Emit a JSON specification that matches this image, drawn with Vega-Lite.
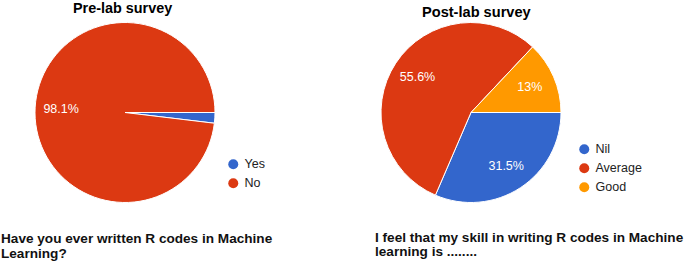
{
  "$schema": "https://vega.github.io/schema/vega-lite/v6.json",
  "padding": {"left": 1, "top": 0, "right": 0, "bottom": 0},
  "autosize": "pad",
  "bounds": "flush",
  "spacing": 374,
  "background": "white",
  "config": {"view": {"stroke": null}, "font": "Liberation Sans"},
  "datasets": {
    "pre": [
      {"answer": "Yes", "pct": 1.9, "ord": 1, "label": ""},
      {"answer": "No", "pct": 98.1, "ord": 2, "label": "98.1%"}
    ],
    "post": [
      {"answer": "Nil", "pct": 31.5, "ord": 1, "label": "31.5%"},
      {"answer": "Average", "pct": 55.6, "ord": 2, "label": "55.6%"},
      {"answer": "Good", "pct": 13, "ord": 3, "label": "13%"}
    ]
  },
  "resolve": {"scale": {"color": "independent", "theta": "independent"}, "legend": {"color": "independent"}},
  "hconcat": [
    {
      "title": {"text": "Pre-lab survey", "fontSize": 14.4, "fontWeight": "bold", "anchor": "start", "dx": 72, "offset": 4, "color": "#000"},
      "vconcat": [
        {
          "width": 248,
          "height": 185,
          "title": {"text": ["Have you ever written R codes in Machine", "Learning?"], "orient": "bottom", "anchor": "start", "fontSize": 13.6, "fontWeight": "bold", "offset": 27, "lineHeight": 15, "color": "#111"},
          "data": {"name": "pre"},
          "encoding": {
            "theta": {"field": "pct", "type": "quantitative", "stack": true, "scale": {"range": [1.5708, 7.854]}},
            "order": {"field": "ord", "type": "quantitative"}
          },
          "layer": [
            {
              "mark": {"type": "arc", "outerRadius": 90, "stroke": "white", "strokeWidth": 1},
              "encoding": {
                "color": {"field": "answer", "type": "nominal", "sort": ["Yes", "No"],
                  "scale": {"domain": ["Yes", "No"], "range": ["#3366CC", "#DC3912"]},
                  "legend": {"orient": "none", "legendX": 226, "legendY": 138, "title": null, "symbolType": "circle", "symbolSize": 100, "symbolStrokeWidth": 0, "labelFontSize": 12.5, "labelColor": "#222", "rowPadding": 6, "labelOffset": 5}}
              }
            },
            {
              "mark": {"type": "text", "radius": 64, "color": "white", "fontSize": 12.5},
              "encoding": {"text": {"field": "label", "type": "nominal"}}
            }
          ]
        }
      ]
    },
    {
      "title": {"text": "Post-lab survey", "fontSize": 14.6, "fontWeight": "bold", "anchor": "start", "dx": 47, "offset": 0, "color": "#000"},
      "vconcat": [
        {
          "width": 192,
          "height": 185,
          "title": {"text": ["I feel that my skill in writing R codes in Machine", "learning is ........"], "orient": "bottom", "anchor": "start", "fontSize": 13.6, "fontWeight": "bold", "offset": 26, "lineHeight": 14, "color": "#111"},
          "data": {"name": "post"},
          "encoding": {
            "theta": {"field": "pct", "type": "quantitative", "stack": true, "scale": {"range": [1.5708, 7.854]}},
            "order": {"field": "ord", "type": "quantitative"}
          },
          "layer": [
            {
              "mark": {"type": "arc", "outerRadius": 90, "stroke": "white", "strokeWidth": 1},
              "encoding": {
                "color": {"field": "answer", "type": "nominal", "sort": ["Nil", "Average", "Good"],
                  "scale": {"domain": ["Nil", "Average", "Good"], "range": ["#3366CC", "#DC3912", "#FF9900"]},
                  "legend": {"orient": "none", "legendX": 203, "legendY": 123, "title": null, "symbolType": "circle", "symbolSize": 100, "symbolStrokeWidth": 0, "labelFontSize": 12.5, "labelColor": "#222", "rowPadding": 6, "labelOffset": 5}}
              }
            },
            {
              "mark": {"type": "text", "radius": 64, "color": "white", "fontSize": 12.5},
              "encoding": {"text": {"field": "label", "type": "nominal"}}
            }
          ]
        }
      ]
    }
  ]
}
